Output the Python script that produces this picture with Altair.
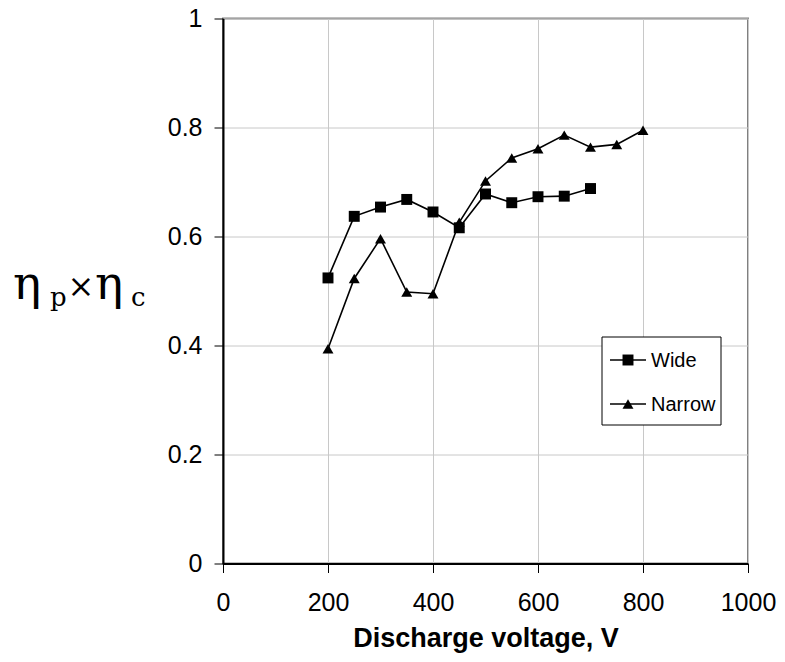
import altair as alt
import pandas as pd

# ---- data ----
wide_v = [200, 250, 300, 350, 400, 450, 500, 550, 600, 650, 700]
wide_eff = [0.524, 0.637, 0.654, 0.668, 0.645, 0.616, 0.678, 0.662, 0.673, 0.674, 0.688]
narrow_v = [200, 250, 300, 350, 400, 450, 500, 550, 600, 650, 700, 750, 800]
narrow_eff = [0.394, 0.523, 0.596, 0.498, 0.495, 0.626, 0.702, 0.744, 0.761, 0.786, 0.764, 0.769, 0.795]
series_names = ["Wide", "Narrow"]
series_shapes = ["square", "triangle-up"]
x_ticks = [0, 200, 400, 600, 800, 1000]
y_ticks = [0, 0.2, 0.4, 0.6, 0.8, 1]

df = pd.concat([
    pd.DataFrame({"V": wide_v, "eff": wide_eff, "series": "Wide"}),
    pd.DataFrame({"V": narrow_v, "eff": narrow_eff, "series": "Narrow"}),
])
one = pd.DataFrame({"k": [0]})

W, H = 525, 545
SANS = "Liberation Sans"
SERIF = "DejaVu Serif"

x_enc = alt.X("V:Q", scale=alt.Scale(domain=[0, 1000], nice=False),
              axis=alt.Axis(values=x_ticks, title="Discharge voltage, V", format="d", labelFlush=False))
y_enc = alt.Y("eff:Q", scale=alt.Scale(domain=[0, 1], nice=False),
              axis=alt.Axis(values=y_ticks, title=None, format="~g", labelFlush=False))

base = alt.Chart(df)
lines = base.mark_line(color="black", strokeWidth=1.6).encode(
    x=x_enc, y=y_enc, detail="series:N")
points = base.mark_point(filled=True, color="black", opacity=1, size=120).encode(
    x=x_enc, y=y_enc,
    shape=alt.Shape("series:N", scale=alt.Scale(domain=series_names, range=series_shapes), legend=None))

# ---- manual legend (box, line samples, symbols, labels) ----
OX, OY = 223, 18.5
def rx(v):
    return v - OX
def ry(v):
    return v - OY

legend_box = alt.Chart(one).mark_rect(fill="white", stroke="black", strokeWidth=1).encode(
    x=alt.value(rx(602)), x2=alt.value(rx(721)), y=alt.value(ry(337)), y2=alt.value(ry(425)))
legend_layers = [legend_box]
for name, shp, yy in zip(series_names, series_shapes, [360, 404]):
    legend_layers.append(alt.Chart(one).mark_rule(color="black", strokeWidth=1.6).encode(
        x=alt.value(rx(610)), x2=alt.value(rx(646)), y=alt.value(ry(yy))))
    legend_layers.append(alt.Chart(one).mark_point(filled=True, color="black", opacity=1, size=120, shape=shp).encode(
        x=alt.value(rx(628)), y=alt.value(ry(yy))))
    legend_layers.append(alt.Chart(one).mark_text(text=name, font=SANS, fontSize=20, align="left",
                                                  baseline="middle", color="black").encode(
        x=alt.value(rx(651)), y=alt.value(ry(yy + 1))))

# ---- y-axis title with subscripts ----
title_parts = [("η", 13, 299, 47, "left"), ("p", 50, 306, 26, "left"), ("×", 81, 297, 32, "center"),
               ("η", 95, 299, 47, "left"), ("c", 131, 306, 26, "left")]
title_layers = []
for txt, px, py, fs, al in title_parts:
    title_layers.append(alt.Chart(one).mark_text(text=txt, font=SERIF, fontSize=fs, align=al,
                                                 baseline="alphabetic", color="black").encode(
        x=alt.value(rx(px)), y=alt.value(ry(py))))

chart = alt.layer(lines, points, *legend_layers, *title_layers).properties(
    width=W, height=H,
    autosize=alt.AutoSizeParams(type="none"),
    padding={"left": OX, "top": OY, "right": 785 - OX - W, "bottom": 662 - OY - H},
).configure_view(
    stroke="#808080", strokeWidth=2
).configure_axis(
    domainColor="black", domainWidth=2, tickColor="black", tickWidth=1, tickSize=9,
    gridColor="#c8c8c8", gridWidth=1,
    labelFont=SANS, labelFontSize=25, labelColor="black",
    titleFont=SANS, titleFontSize=27, titleFontWeight="bold", titleColor="black",
).configure_axisX(
    labelPadding=18, titlePadding=10
).configure_axisY(
    labelPadding=12
)

chart.save("out.html", embed_options={"renderer": "svg", "actions": False})
